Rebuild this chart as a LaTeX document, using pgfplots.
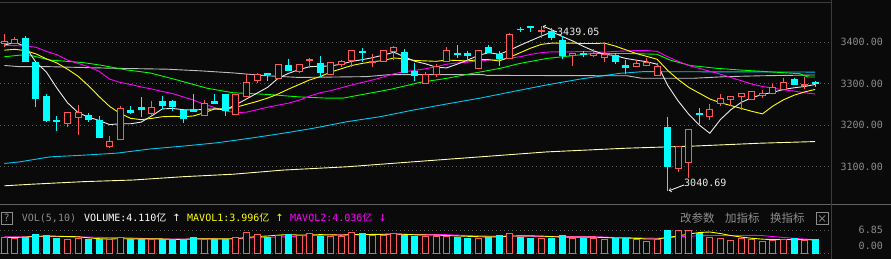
\documentclass[border=0pt]{standalone}
\usepackage{fontspec}
\usepackage{pgfplots}
\pgfplotsset{compat=1.18}
\usepackage{pgfplotstable}
\newfontfamily\mono{DejaVu Sans Mono}
\newfontfamily\cjk{Noto Sans CJK SC}
\newfontfamily\dv{DejaVu Sans}
\newcommand\lbl{\mono\fontsize{10}{12}\selectfont}
\definecolor{bg}{RGB}{10,10,10}
\definecolor{kup}{RGB}{255,88,88}
\definecolor{kdown}{RGB}{0,255,255}
\definecolor{gridc}{RGB}{90,90,90}
\definecolor{lab}{RGB}{140,140,140}
\definecolor{maw}{RGB}{235,235,235}
\definecolor{may}{RGB}{255,255,0}
\definecolor{mam}{RGB}{255,0,255}
\definecolor{mag}{RGB}{0,255,0}
\definecolor{magr}{RGB}{190,190,190}
\definecolor{mac}{RGB}{0,200,240}
\definecolor{maly}{RGB}{255,255,160}
\definecolor{frame}{RGB}{60,60,60}

\pgfdeclareplotmark{candle}{%
  \pgfsetlinewidth{1pt}%
  \ifdim\kc pt<0pt
    \pgfsetstrokecolor{kdown}\pgfsetfillcolor{kdown}%
  \else
    \pgfsetstrokecolor{kup}\pgfsetfillcolor{bg}%
  \fi
  \pgfpathmoveto{\pgfqpoint{0pt}{\kl pt}}%
  \pgfpathlineto{\pgfqpoint{0pt}{\kh pt}}%
  \pgfusepath{stroke}%
  \pgfpathrectangle{\pgfqpoint{-3pt}{0pt}}{\pgfqpoint{6pt}{\kc pt}}%
  \pgfusepath{fill,stroke}%
}
\pgfdeclareplotmark{vbar}{%
  \pgfsetlinewidth{1pt}%
  \ifdim\kc pt<0pt
    \pgfsetstrokecolor{kdown}\pgfsetfillcolor{kdown}%
  \else
    \pgfsetstrokecolor{kup}\pgfsetfillcolor{bg}%
  \fi
  \pgfpathrectangle{\pgfqpoint{-3pt}{0.5pt}}{\pgfqpoint{6pt}{\vh pt}}%
  \pgfusepath{fill,stroke}%
}

\pgfplotstableread{
i o h l c v
0 3398 3419 3389 3401 4.91
1 3398 3414 3396 3407 4.62
2 3408 3415 3352 3353 4.91
3 3350 3351 3244 3265 5.69
4 3268 3275 3208 3212 5.40
5 3211 3222 3186 3209 4.62
6 3203 3232 3194 3231 4.15
7 3219 3248 3176 3231 4.62
8 3222 3228 3208 3213 4.15
9 3210 3222 3168 3169 4.15
10 3148 3173 3144 3161 4.15
11 3165 3246 3163 3240 4.73
12 3236 3246 3226 3230 4.15
13 3242 3268 3219 3237 4.15
14 3227 3258 3221 3243 4.15
15 3258 3270 3239 3246 4.15
16 3258 3260 3234 3244 4.15
17 3234 3235 3206 3216 4.15
18 3238 3275 3231 3232 4.73
19 3222 3260 3222 3253 4.15
20 3258 3275 3250 3251 4.15
21 3273 3274 3222 3235 4.15
22 3226 3274 3225 3273 4.73
23 3268 3324 3267 3303 6.18
24 3307 3325 3302 3321 5.60
25 3325 3326 3306 3321 4.91
26 3313 3348 3312 3347 5.40
27 3345 3360 3333 3333 5.60
28 3329 3348 3325 3347 5.40
29 3356 3361 3337 3358 5.89
30 3349 3367 3317 3327 5.20
31 3323 3353 3322 3352 5.20
32 3347 3358 3341 3353 5.20
33 3356 3382 3341 3381 6.18
34 3377 3386 3353 3375 5.89
35 3350 3371 3341 3353 5.40
36 3353 3382 3352 3381 5.40
37 3377 3392 3357 3388 5.89
38 3376 3383 3326 3327 5.40
39 3330 3351 3306 3319 5.20
40 3301 3327 3300 3323 5.20
41 3323 3347 3317 3341 5.20
42 3353 3388 3352 3381 5.20
43 3373 3393 3363 3371 4.91
44 3373 3379 3355 3368 4.62
45 3337 3382 3336 3381 4.62
46 3387 3393 3375 3376 4.91
47 3371 3379 3343 3361 5.40
48 3361 3423 3360 3419 5.89
49 3432 3437 3426 3430 4.91
50 3437 3438 3426 3435 4.62
51 3425 3439.05 3411 3428 4.62
52 3427 3434 3405 3411 4.62
53 3404 3416 3359 3368 5.40
54 3367 3373 3343 3372 4.62
55 3372 3380 3364 3370 4.62
56 3367 3383 3364 3373 4.62
57 3363 3398 3353 3371 4.15
58 3368 3373 3347 3353 4.62
59 3345 3357 3323 3339 4.62
60 3341 3357 3340 3349 4.15
61 3343 3363 3342 3352 3.67
62 3319 3349 3318 3341 4.15
63 3194 3219 3040.69 3099 6.85
64 3095 3149 3087 3148 6.85
65 3109 3189 3073 3188 6.85
66 3227 3240 3202 3225 5.89
67 3220 3251 3212 3238 4.91
68 3253 3275 3247 3265 4.62
69 3262 3269 3246 3268 3.96
70 3268 3278 3236 3277 4.62
71 3262 3283 3261 3282 4.15
72 3271 3285 3265 3277 3.67
73 3275 3299 3274 3291 3.96
74 3287 3314 3286 3302 4.15
75 3309 3314 3297 3298 4.44
76 3295 3317 3287 3299 3.96
77 3302 3307 3292 3300 4.11
}\candles

\pgfplotstableread{
i ma5 ma10 ma20 mv5 mv10
0 3393 3381 3393 4.70 4.90
1 3400 3383 3392 4.70 4.90
2 3390 3380 3391 4.80 4.90
3 3352 3372 3388 5.00 4.95
4 3328 3360 3378 5.11 5.00
5 3289 3350 3370 5.05 4.95
6 3254 3335 3357 4.95 4.90
7 3230 3318 3349 4.90 4.85
8 3219 3295 3341 4.59 4.80
9 3211 3269 3330 4.34 4.72
10 3201 3245 3311 4.24 4.65
11 3203 3228 3303 4.36 4.66
12 3203 3216 3298 4.27 4.58
13 3207 3213 3292 4.27 4.43
14 3222 3216 3287 4.27 4.30
15 3239 3220 3281 4.27 4.26
16 3240 3221 3276 4.15 4.26
17 3237 3220 3268 4.15 4.21
18 3236 3222 3260 4.27 4.27
19 3238 3230 3250 4.27 4.27
20 3239 3239 3242 4.27 4.27
21 3237 3239 3234 4.27 4.21
22 3249 3243 3230 4.38 4.27
23 3263 3250 3231 4.67 4.47
24 3277 3257 3237 4.96 4.61
25 3291 3265 3243 5.11 4.69
26 3313 3275 3248 5.36 4.82
27 3325 3287 3253 5.54 4.96
28 3334 3298 3260 5.38 5.03
29 3341 3309 3270 5.44 5.20
30 3342 3317 3278 5.50 5.31
31 3343 3328 3283 5.46 5.41
32 3347 3336 3290 5.38 5.46
33 3354 3344 3297 5.53 5.46
34 3358 3349 3303 5.53 5.49
35 3363 3353 3309 5.57 5.54
36 3369 3356 3316 5.61 5.54
37 3376 3362 3324 5.75 5.57
38 3365 3360 3329 5.60 5.57
39 3354 3356 3332 5.46 5.50
40 3348 3355 3336 5.42 5.50
41 3340 3354 3341 5.38 5.50
42 3338 3357 3347 5.24 5.50
43 3347 3356 3350 5.14 5.37
44 3357 3355 3352 5.03 5.24
45 3368 3358 3355 4.91 5.16
46 3375 3358 3357 4.85 5.12
47 3371 3355 3358 4.89 5.07
48 3381 3364 3362 5.09 5.12
49 3393 3375 3365 5.15 5.09
50 3404 3386 3371 5.15 5.03
51 3415 3395 3375 5.09 4.97
52 3425 3398 3377 4.93 4.91
53 3414 3398 3377 4.83 4.96
54 3403 3398 3377 4.78 4.96
55 3390 3397 3378 4.78 4.96
56 3379 3397 3377 4.78 4.93
57 3371 3398 3376 4.68 4.81
58 3368 3391 3378 4.53 4.68
59 3361 3382 3379 4.53 4.65
60 3357 3373 3380 4.43 4.60
61 3353 3366 3380 4.24 4.51
62 3347 3359 3378 4.24 4.46
63 3296 3332 3365 4.69 4.61
64 3258 3310 3354 5.13 4.83
65 3226 3291 3344 5.67 5.05
66 3200 3277 3337 6.12 5.18
67 3180 3263 3330 6.27 5.26
68 3213 3254 3323 5.82 5.26
69 3237 3247 3315 5.25 5.19
70 3255 3240 3307 4.80 5.24
71 3266 3233 3299 4.45 5.29
72 3274 3227 3293 4.20 5.24
73 3279 3246 3289 4.07 4.95
74 3286 3261 3285 4.11 4.68
75 3290 3272 3282 4.07 4.44
76 3293 3280 3278 4.04 4.24
77 3298 3286 3275 4.00 4.04
}\mas

\pgfplotstableread{
i v
0 3365
1.49 3369
2.73 3367
4.34 3357
7.47 3351
9.09 3345
11.65 3333
13.84 3326
16.40 3309
19.25 3289
21.72 3278
24.95 3274
27.99 3268
30.65 3265
32.16 3265
34.06 3274
36.63 3286
39.48 3303
42.04 3313
44.51 3325
47.08 3337
48.98 3349
51.54 3361
53.72 3367
55.91 3373
59.14 3373
61.99 3371
63.22 3357
65.12 3344
67.68 3337
69.87 3333
72.43 3329
75.56 3324
76.3 3316
77 3316
}\magreen

\pgfplotstableread{
i v
0 3344
1.49 3341
4.34 3341
10.7 3337
15.45 3335
18.6 3331
21.72 3326
24.95 3319
28 3315
34.45 3317
36.63 3322
45.46 3322
45.84 3320
59.14 3319
60.56 3313
65.4 3313
68.6 3317
71.77 3319
77 3321
}\magray

\pgfplotstableread{
i v
0 3107
1.49 3111
4.34 3123
7.47 3127
10.7 3132
13.84 3142
16.97 3149
20.2 3157
23.33 3168
26.47 3180
29.32 3192
32.54 3208
35.68 3220
38.81 3236
42.04 3251
45.18 3265
48.31 3281
51.54 3297
54.67 3311
58.47 3325
60.66 3329
77 3328
}\macyan

\pgfplotstableread{
i v
0 3053
2.73 3057
7.47 3063
12.22 3067
16.97 3075
21.72 3081
26.47 3091
32.54 3099
38.81 3111
45.18 3123
51.54 3135
59.14 3144
65.4 3149
71.77 3156
77 3160
}\malyellow

\begin{document}
\begin{tikzpicture}
\fill[bg] (0pt,0pt) rectangle (891pt,259pt);
\path[use as bounding box] (0pt,0pt) rectangle (891pt,259pt);
\draw[frame, line width=1pt] (0pt,256.8pt) -- (831.7pt,256.8pt);
\draw[frame!80, line width=1pt] (0pt,54pt) -- (891pt,54pt);
\draw[frame, line width=1pt] (831.7pt,0pt) -- (831.7pt,259pt);

\begin{axis}[
  at={(0pt,54pt)}, anchor=south west,
  scale only axis, x=10.53pt, y=0.41357pt,
  xmin=-0.408, xmax=78.51, ymin=3006.6, ymax=3497.4,
  axis line style={draw=none},
  xtick=\empty,
  ytick={3100,3200,3300,3400},
  yticklabels={3100.00,3200.00,3300.00,3400.00},
  yticklabel pos=right,
  major tick length=0pt,
  ymajorgrids,
  grid style={gridc, dash pattern=on 1pt off 3pt, line width=0.8pt},
  yticklabel style={font=\lbl, text=lab, anchor=east, inner sep=0pt, xshift=52pt},
  clip=false,
]
\addplot[maly, line width=0.9pt] table[x=i,y=v]{\malyellow};
\addplot[mac, line width=0.9pt] table[x=i,y=v]{\macyan};
\addplot[magr, line width=0.9pt] table[x=i,y=v]{\magray};
\addplot[mag, line width=0.9pt] table[x=i,y=v]{\magreen};
\addplot[mam, line width=0.9pt] table[x=i,y=ma20]{\mas};
\addplot[may, line width=0.9pt] table[x=i,y=ma10]{\mas};
\addplot[maw, line width=0.9pt] table[x=i,y=ma5]{\mas};
\addplot[scatter, only marks, mark=candle,
  scatter/@pre marker code/.code={},
  scatter/@post marker code/.code={},
  visualization depends on={(\thisrow{h}-\thisrow{o})*0.41357 \as \kh},
  visualization depends on={(\thisrow{l}-\thisrow{o})*0.41357 \as \kl},
  visualization depends on={(\thisrow{c}-\thisrow{o})*0.41357 \as \kc},
] table[x=i,y=o]{\candles};
\draw[white, line width=0.8pt, ->] (axis cs:52.49,3424.9) -- (axis cs:51.15,3439.05);
\node[anchor=west, inner sep=0pt, text=maw, font=\lbl] at (axis cs:52.49,3426.1) {3439.05};
\draw[white, line width=0.8pt, ->] (axis cs:64.55,3055) -- (axis cs:63.12,3041);
\node[anchor=west, inner sep=0pt, text=maw, font=\lbl] at (axis cs:64.55,3060.5) {3040.69};
\end{axis}

\begin{axis}[
  at={(0pt,5.3pt)}, anchor=south west,
  scale only axis, x=10.53pt, y=3.46pt,
  xmin=-0.408, xmax=78.51, ymin=0, ymax=6.85,
  axis line style={draw=none},
  xtick=\empty,
  ytick={6.85}, yticklabels={6.85},
  extra y ticks={0}, extra y tick labels={0.00},
  extra y tick style={grid=major, yticklabel style={yshift=7.7pt}},
  yticklabel pos=right,
  major tick length=0pt,
  ymajorgrids,
  grid style={gridc, dash pattern=on 1pt off 3pt, line width=0.8pt},
  yticklabel style={font=\lbl, text=lab, anchor=east, inner sep=0pt, xshift=52pt},
  clip=false,
]
\addplot[scatter, only marks, mark=vbar,
  scatter/@pre marker code/.code={},
  scatter/@post marker code/.code={},
  visualization depends on={\thisrow{v}*3.46-1 \as \vh},
  visualization depends on={\thisrow{c}-\thisrow{o} \as \kc},
] table[x=i,y expr=0]{\candles};
\addplot[mam, line width=0.9pt] table[x=i,y=mv10]{\mas};
\addplot[may, line width=0.9pt] table[x=i,y=mv5]{\mas};
\end{axis}

% header of the volume panel
\draw[lab, line width=0.8pt] (1.5pt,35pt) rectangle (12pt,47pt);
\node[text=lab, font=\lbl, inner sep=0pt] at (6.75pt,41pt) {?};
\node[anchor=west, inner sep=0pt, text=lab, font=\lbl] at (21.7pt,41pt) {VOL(5,10)};
\node[anchor=west, inner sep=0pt, text=white, font=\lbl] at (84pt,41pt) {VOLUME:4.110{\cjk 亿} {\dv ↑}};
\node[anchor=west, inner sep=0pt, text=may, font=\lbl] at (187pt,41pt) {MAVOL1:3.996{\cjk 亿} {\dv ↑}};
\node[anchor=west, inner sep=0pt, text=mam, font=\lbl] at (290pt,41pt) {MAVOL2:4.036{\cjk 亿} {\dv ↓}};
\node[anchor=west, inner sep=0pt, text=lab, font=\cjk\fontsize{11.5}{13}\selectfont] at (680pt,41pt) {改参数};
\node[anchor=west, inner sep=0pt, text=lab, font=\cjk\fontsize{11.5}{13}\selectfont] at (725pt,41pt) {加指标};
\node[anchor=west, inner sep=0pt, text=lab, font=\cjk\fontsize{11.5}{13}\selectfont] at (770pt,41pt) {换指标};
\draw[lab, line width=0.8pt] (816pt,34.5pt) rectangle (828pt,46.5pt);
\draw[lab, line width=0.7pt] (819pt,37.5pt) -- (825pt,43.5pt) (819pt,43.5pt) -- (825pt,37.5pt);
\end{tikzpicture}
\end{document}
